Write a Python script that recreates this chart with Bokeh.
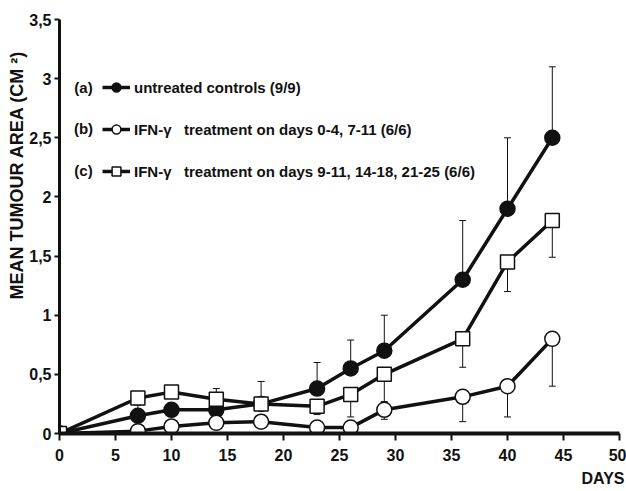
from bokeh.plotting import figure
from bokeh.models import (Range1d, FixedTicker, Whisker, ColumnDataSource, Legend,
                          LegendItem, Label, TeeHead, Title)
from bokeh.core.properties import value
from bokeh.embed import file_html
from bokeh.resources import INLINE

# ---------------- data ----------------
days = [0, 7, 10, 14, 18, 23, 26, 29, 36, 40, 44]
untreated = [0, 0.15, 0.20, 0.20, 0.25, 0.38, 0.55, 0.70, 1.30, 1.90, 2.50]
ifn_early = [0, 0.02, 0.06, 0.09, 0.10, 0.05, 0.05, 0.20, 0.31, 0.40, 0.80]
ifn_late = [0, 0.30, 0.35, 0.29, 0.25, 0.23, 0.33, 0.50, 0.80, 1.45, 1.80]

untreated_err_days = [7, 14, 18, 23, 26, 29, 36, 40, 44]
untreated_err_top = [0.24, 0.38, 0.44, 0.60, 0.79, 1.00, 1.80, 2.50, 3.10]
ifn_early_err_days = [29, 36, 40, 44]
ifn_early_err_bottom = [0.12, 0.10, 0.14, 0.40]
ifn_late_err_days = [23, 26, 29, 36, 40, 44]
ifn_late_err_bottom = [0.16, 0.14, 0.27, 0.56, 1.20, 1.49]

labels = ["untreated controls (9/9)",
          "IFN-\u03b3   treatment on days 0-4, 7-11 (6/6)",
          "IFN-\u03b3   treatment on days 9-11, 14-18, 21-25 (6/6)"]
tags = ["(a)", "(b)", "(c)"]

x_ticks = [0, 5, 10, 15, 20, 25, 30, 35, 40, 45, 50]
y_ticks = [0, 0.5, 1, 1.5, 2, 2.5, 3, 3.5]
y_tick_labels = ["0", "0,5", "1", "1,5", "2", "2,5", "3", "3,5"]

y_title = "MEAN TUMOUR AREA (CM \u00b2)"
x_title = "DAYS"

# ---------------- style ----------------
SANS = "Liberation Sans"
INK = "#111111"

p = figure(width=626, height=491, output_backend="svg", toolbar_location=None,
           x_range=Range1d(0, 50), y_range=Range1d(0, 3.5),
           min_border_left=59, min_border_right=7, min_border_top=19,
           min_border_bottom=58)
p.outline_line_color = None
p.xgrid.grid_line_color = None
p.ygrid.grid_line_color = None
p.background_fill_color = "white"
p.border_fill_color = "white"

for ax in (p.xaxis[0], p.yaxis[0]):
    ax.axis_line_color = INK
    ax.major_tick_line_color = INK
    ax.major_tick_line_width = 2
    ax.major_tick_in = 0
    ax.minor_tick_line_color = None
    ax.major_label_text_font = SANS
    ax.major_label_text_font_style = "bold"
    ax.major_label_text_font_size = "16px"
    ax.major_label_text_color = INK

p.xaxis[0].ticker = FixedTicker(ticks=x_ticks)
p.xaxis[0].axis_line_width = 4
p.xaxis[0].major_tick_out = 7
p.xaxis[0].major_label_standoff = 8

p.yaxis[0].ticker = FixedTicker(ticks=y_ticks)
p.yaxis[0].major_label_overrides = dict(zip(y_ticks, y_tick_labels))
p.yaxis[0].axis_line_width = 3
p.yaxis[0].major_tick_out = 5
p.yaxis[0].major_label_standoff = 3


def add_whisker(xs, base_vals, ends, upper):
    lookup = dict(zip(days, base_vals))
    mids = [lookup[d] for d in xs]
    if upper:
        lo, hi = mids, ends
    else:
        lo, hi = ends, mids
    src = ColumnDataSource(dict(x=xs, lo=lo, hi=hi))
    head = TeeHead(size=7, line_width=1, line_color=INK)
    w = Whisker(source=src, base="x", lower="lo", upper="hi", dimension="height",
                line_width=1, line_color=INK, level="underlay",
                upper_head=head if upper else None,
                lower_head=None if upper else head)
    p.add_layout(w)


add_whisker(untreated_err_days, untreated, untreated_err_top, True)
add_whisker(ifn_early_err_days, ifn_early, ifn_early_err_bottom, False)
add_whisker(ifn_late_err_days, ifn_late, ifn_late_err_bottom, False)

la = p.line(days, untreated, line_width=3.5, line_color=INK)
lb = p.line(days, ifn_early, line_width=3.5, line_color=INK)
lc = p.line(days, ifn_late, line_width=3.5, line_color=INK)

sa = p.scatter(days, untreated, marker="circle", size=15, fill_color=INK,
               line_color=INK, line_width=1.5)
sb = p.scatter(days, ifn_early, marker="circle", size=15, fill_color="white",
               line_color=INK, line_width=1.5)
sc = p.scatter(days, ifn_late, marker="square", size=14, fill_color="white",
               line_color=INK, line_width=1.5)

legend = Legend(items=[LegendItem(label=value(labels[0]), renderers=[la, sa]),
                       LegendItem(label=value(labels[1]), renderers=[lb, sb]),
                       LegendItem(label=value(labels[2]), renderers=[lc, sc])],
                location=(43, 251), glyph_width=28, glyph_height=22,
                label_height=22, spacing=20, padding=0, margin=0,
                label_standoff=4, border_line_color=None,
                background_fill_alpha=0,
                label_text_font=SANS, label_text_font_style="bold",
                label_text_font_size="15px", label_text_color=INK)
p.add_layout(legend)

for tag, yy in zip(tags, [2.927, 2.58, 2.226]):
    p.add_layout(Label(x=2.14, y=yy, text=tag, text_align="center",
                       text_baseline="middle", text_font=SANS,
                       text_font_style="bold", text_font_size="15px",
                       text_color=INK))

p.add_layout(Title(text=y_title, align="right", offset=31, standoff=0,
                   text_font=SANS, text_font_style="bold",
                   text_font_size="18px", text_color=INK), "left")
p.add_layout(Title(text=x_title, align="right", offset=-5, standoff=8,
                   text_font=SANS, text_font_style="bold",
                   text_font_size="16px", text_color=INK), "below")

open("out.html", "w").write(file_html(p, INLINE))
